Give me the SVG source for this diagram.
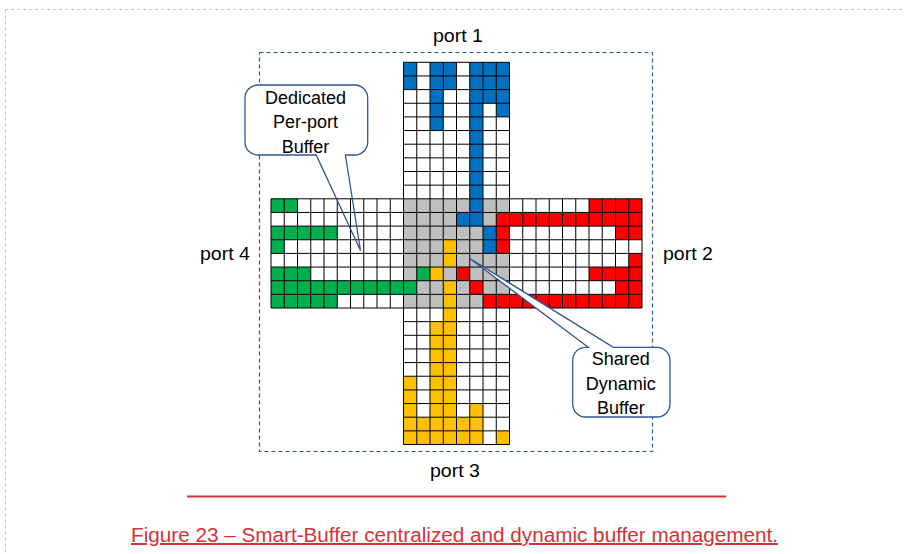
<svg xmlns="http://www.w3.org/2000/svg" width="904" height="554" viewBox="0 0 904 554">
<style>
  .t{font-family:"Liberation Sans",Arial,sans-serif;fill:#000;text-anchor:middle}
  .port{font-size:19px}
  .call{font-size:18px}
  .bl{fill:#0070C0}.rd{fill:#FF0000}.gn{fill:#00B050}.yl{fill:#FFC000}
  .grid{fill:none;stroke:#000;stroke-width:1;vector-effect:non-scaling-stroke}
  .cbox{stroke:#2F5597;stroke-width:1.3}
</style>
<rect width="904" height="554" fill="#fff"/>
<g id="page-frame" fill="none" stroke="#c4c4c4" stroke-width="1" stroke-dasharray="3 3">
  <path d="M5 9.5 H904 M5.5 9.5 V554"/>
</g>
<g id="switch-frame">
  <rect x="259.5" y="52.5" width="393" height="399" fill="none" stroke="#2F5597" stroke-width="1.2" stroke-dasharray="4 3"/>
</g>
<g id="buffer-grid" transform="translate(271 62.3) scale(13.25 13.65)">
  <rect x="10" y="0" width="8" height="28" fill="#fff"/>
  <rect x="0" y="10" width="28" height="8" fill="#fff"/>
  <rect x="10" y="10" width="8" height="8" fill="#BFBFBF"/>
  <g id="port1-cells" class="bl">
    <rect x="10" y="0" width="1" height="2"/>
    <rect x="12" y="0" width="2" height="2"/>
    <rect x="12" y="2" width="1" height="3"/>
    <rect x="15" y="0" width="1" height="12"/>
    <rect x="16" y="0" width="2" height="3"/>
    <rect x="17" y="3" width="1" height="1"/>
    <rect x="14" y="11" width="1" height="1"/>
    <rect x="16" y="12" width="1" height="2"/>
  </g>
  <g id="port2-cells" class="rd">
    <rect x="24" y="10" width="4" height="1"/>
    <rect x="17" y="11" width="11" height="1"/>
    <rect x="17" y="12" width="1" height="2"/>
    <rect x="26" y="12" width="2" height="1"/>
    <rect x="27" y="14" width="1" height="1"/>
    <rect x="14" y="15" width="1" height="1"/>
    <rect x="24" y="15" width="4" height="1"/>
    <rect x="15" y="16" width="1" height="1"/>
    <rect x="26" y="16" width="2" height="1"/>
    <rect x="16" y="17" width="12" height="1"/>
  </g>
  <g id="port4-cells" class="gn">
    <rect x="0" y="10" width="2" height="1"/>
    <rect x="0" y="12" width="5" height="1"/>
    <rect x="0" y="13" width="1" height="1"/>
    <rect x="0" y="15" width="3" height="1"/>
    <rect x="11" y="15" width="1" height="1"/>
    <rect x="0" y="16" width="11" height="1"/>
    <rect x="0" y="17" width="5" height="1"/>
  </g>
  <g id="port3-cells" class="yl">
    <rect x="13" y="13" width="1" height="2"/>
    <rect x="12" y="15" width="1" height="1"/>
    <rect x="13" y="16" width="1" height="12"/>
    <rect x="12" y="19" width="1" height="9"/>
    <rect x="10" y="23" width="1" height="5"/>
    <rect x="15" y="25" width="1" height="3"/>
    <rect x="11" y="26" width="1" height="2"/>
    <rect x="14" y="26" width="1" height="2"/>
    <rect x="17" y="27" width="1" height="1"/>
  </g>
  <path class="grid" d="M10 0H18M10 1H18M10 2H18M10 3H18M10 4H18M10 5H18M10 6H18M10 7H18M10 8H18M10 9H18
M0 10H28M0 11H28M0 12H28M0 13H28M0 14H28M0 15H28M0 16H28M0 17H28M0 18H28
M10 19H18M10 20H18M10 21H18M10 22H18M10 23H18M10 24H18M10 25H18M10 26H18M10 27H18M10 28H18
M0 10V18M1 10V18M2 10V18M3 10V18M4 10V18M5 10V18M6 10V18M7 10V18M8 10V18M9 10V18
M10 0V28M11 0V28M12 0V28M13 0V28M14 0V28M15 0V28M16 0V28M17 0V28M18 0V28
M19 10V18M20 10V18M21 10V18M22 10V18M23 10V18M24 10V18M25 10V18M26 10V18M27 10V18M28 10V18"/>
</g>
<g id="port-labels">
  <text id="port1" class="t port" x="458" y="42" textLength="50" lengthAdjust="spacingAndGlyphs">port 1</text>
  <text id="port2" class="t port" x="688" y="260" textLength="50" lengthAdjust="spacingAndGlyphs">port 2</text>
  <text id="port3" class="t port" x="455" y="477" textLength="50" lengthAdjust="spacingAndGlyphs">port 3</text>
  <text id="port4" class="t port" x="225" y="260" textLength="50" lengthAdjust="spacingAndGlyphs">port 4</text>
</g>
<g id="callout-dedicated">
  <rect x="245" y="85" width="122.7" height="70" rx="13" fill="#fff"/>
  <path class="cbox" fill="none" d="M316.2 155 L258 155 A13 13 0 0 1 245 142 L245 98 A13 13 0 0 1 258 85 L354.7 85 A13 13 0 0 1 367.7 98 L367.7 142 A13 13 0 0 1 354.7 155 L345.4 155 L360.5 250.5 Z"/>
  <text class="t call" x="305.5" y="103.5">Dedicated</text>
  <text class="t call" x="305.5" y="128">Per-port</text>
  <text class="t call" x="305.5" y="152.5">Buffer</text>
</g>
<g id="callout-shared">
  <path class="cbox" fill="#fff" d="M572.7 360.3 A13 13 0 0 1 585.7 347.3 L588.3 347.3 L469.5 258.3 L613.3 347.3 L657 347.3 A13 13 0 0 1 670 360.3 L670 404 A13 13 0 0 1 657 417 L585.7 417 A13 13 0 0 1 572.7 404 Z"/>
  <text class="t call" x="620.8" y="365">Shared</text>
  <text class="t call" x="620.8" y="389.5">Dynamic</text>
  <text class="t call" x="620.8" y="414">Buffer</text>
</g>
<g id="caption">
  <line x1="187" y1="496.5" x2="726" y2="496.5" stroke="#D13438" stroke-width="2"/>
  <text x="454.5" y="542" font-family="'Liberation Sans',Arial,sans-serif" font-size="20" fill="#D13438" text-anchor="middle" text-decoration="underline" textLength="647" lengthAdjust="spacingAndGlyphs">Figure 23 – Smart-Buffer centralized and dynamic buffer management.</text>
</g>
</svg>
